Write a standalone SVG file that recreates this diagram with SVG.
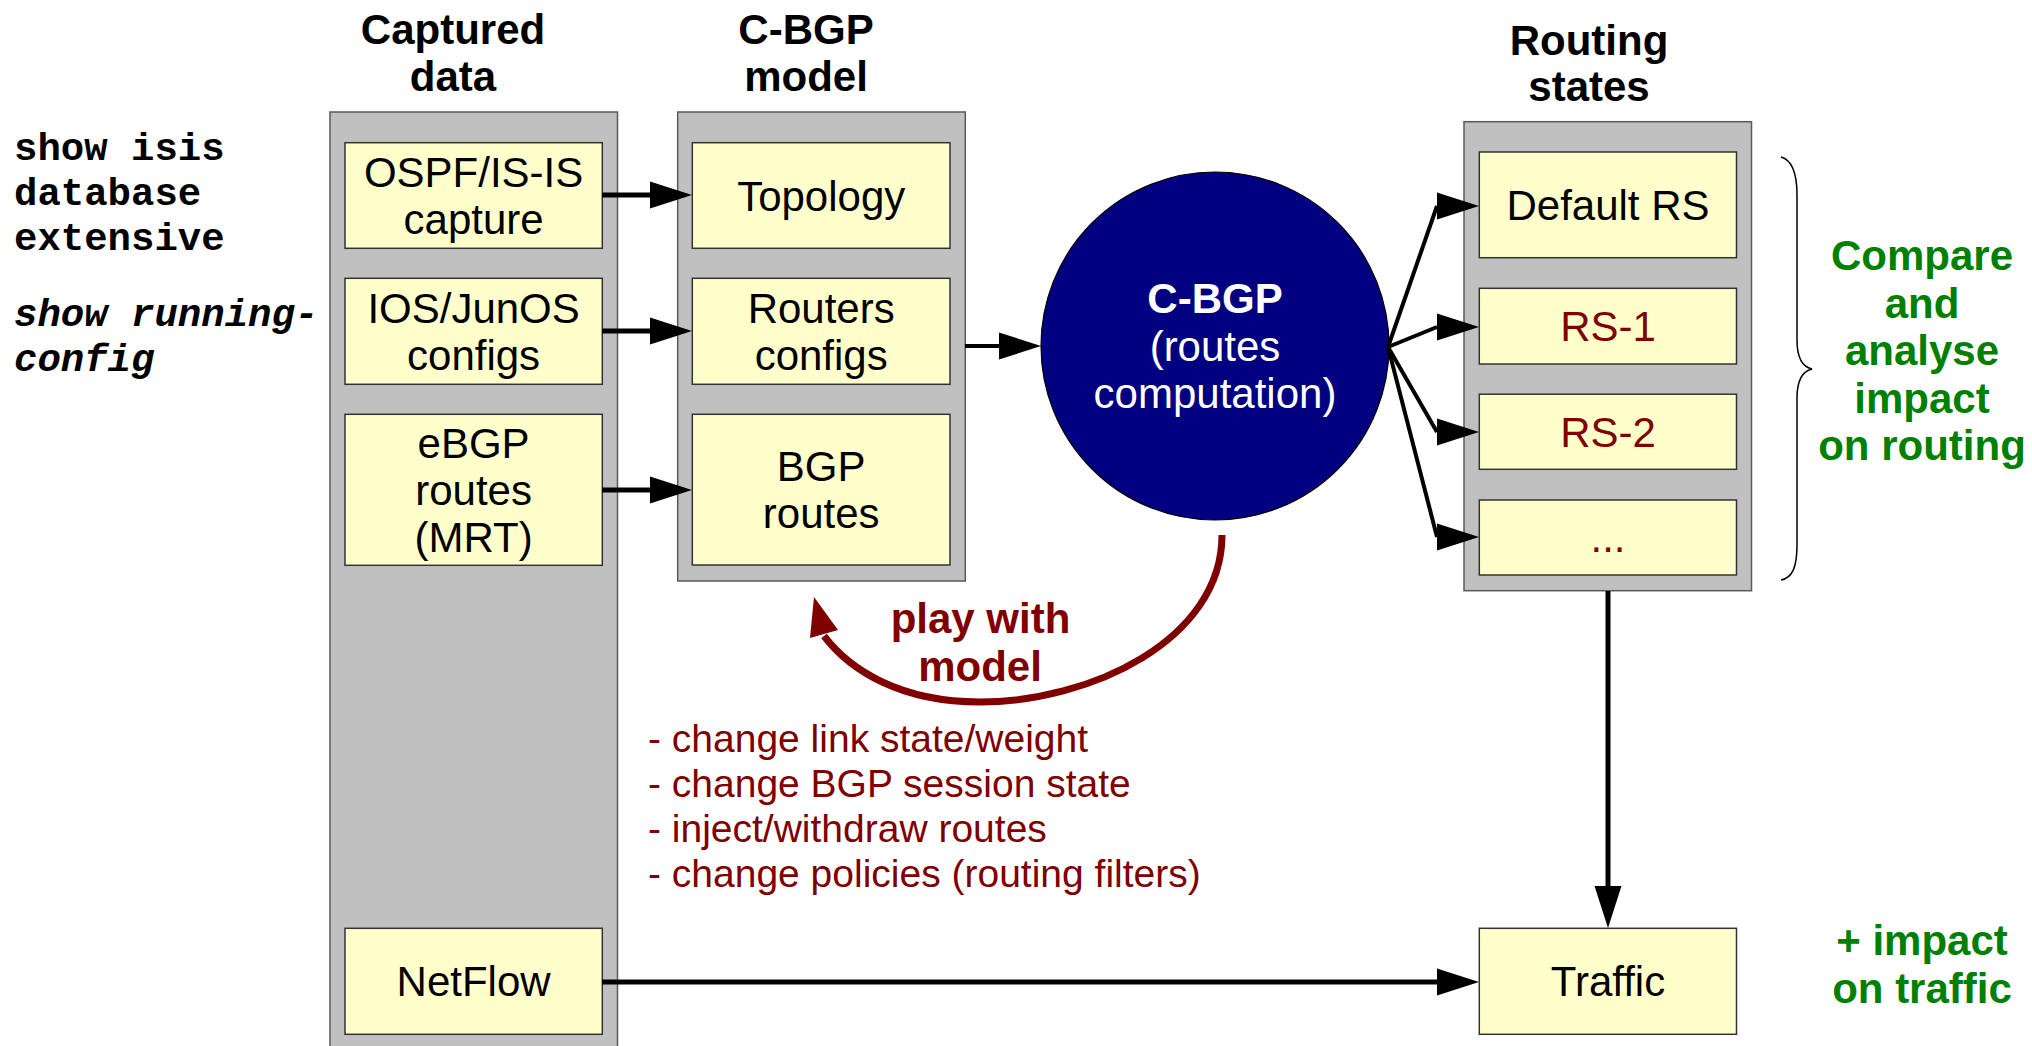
<svg xmlns="http://www.w3.org/2000/svg" width="2032" height="1046" viewBox="0 0 2032 1046">
<style>
.col{fill:#c0c0c0;stroke:#5a5a5a;stroke-width:1.5}
.box{fill:#ffffcc;stroke:#333;stroke-width:1.5}
.t{font-family:"Liberation Sans",Arial,sans-serif;font-size:42px;text-anchor:middle;fill:#000}
.b{font-weight:bold}
.red{fill:#800000}
.grn{fill:#008000}
.w{fill:#fff}
.mono{font-family:"Liberation Mono","Courier New",monospace;font-size:39px;font-weight:bold;fill:#000}
.ln{stroke:#000;fill:none;stroke-width:5}
.ln4{stroke:#000;fill:none;stroke-width:4}
</style>
<defs>
<marker id="arr" markerUnits="userSpaceOnUse" markerWidth="42" markerHeight="27" refX="0" refY="13.5" orient="auto" overflow="visible">
<path d="M0,0 L42,13.5 L0,27 z" fill="#000"/>
</marker>
<marker id="arrH" markerUnits="userSpaceOnUse" markerWidth="42" markerHeight="27" refX="0" refY="13.5" orient="0" overflow="visible">
<path d="M0,0 L42,13.5 L0,27 z" fill="#000"/>
</marker>
</defs>
<rect width="2032" height="1046" fill="#fff"/>

<g id="left-notes">
<text class="mono" x="14" y="160">show isis</text>
<text class="mono" x="14" y="205">database</text>
<text class="mono" x="14" y="250">extensive</text>
<text class="mono" x="14" y="326" font-style="italic">show running-</text>
<text class="mono" x="14" y="371" font-style="italic">config</text>
</g>

<g id="captured-data">
<text class="t b" x="453" y="44">Captured</text>
<text class="t b" x="453" y="91">data</text>
<rect class="col" x="330" y="112" width="287.5" height="940"/>
</g>
<g id="ospf-capture">
<rect class="box" x="345" y="142.7" width="257.3" height="105.6"/>
<text class="t" x="473.6" y="187">OSPF/IS-IS</text>
<text class="t" x="473.6" y="234">capture</text>
</g>
<g id="ios-configs">
<rect class="box" x="345" y="278.3" width="257.3" height="106"/>
<text class="t" x="473.6" y="322.8">IOS/JunOS</text>
<text class="t" x="473.6" y="369.8">configs</text>
</g>
<g id="ebgp-routes">
<rect class="box" x="345" y="414.3" width="257.3" height="151"/>
<text class="t" x="473.6" y="457.8">eBGP</text>
<text class="t" x="473.6" y="504.8">routes</text>
<text class="t" x="473.6" y="551.8">(MRT)</text>
</g>
<g id="netflow">
<rect class="box" x="345" y="928.3" width="257.3" height="106"/>
<text class="t" x="473.6" y="996.3">NetFlow</text>
</g>

<g id="cbgp-model">
<text class="t b" x="806" y="44">C-BGP</text>
<text class="t b" x="806" y="91">model</text>
<rect class="col" x="677.7" y="112" width="287.6" height="469"/>
</g>
<g id="topology">
<rect class="box" x="692.3" y="142.7" width="257.7" height="105.6"/>
<text class="t" x="821.2" y="210.5">Topology</text>
</g>
<g id="routers-configs">
<rect class="box" x="692.3" y="278.3" width="257.7" height="106"/>
<text class="t" x="821.2" y="322.8">Routers</text>
<text class="t" x="821.2" y="369.8">configs</text>
</g>
<g id="bgp-routes">
<rect class="box" x="692.3" y="414.3" width="257.7" height="150.7"/>
<text class="t" x="821.2" y="481">BGP</text>
<text class="t" x="821.2" y="528">routes</text>
</g>

<g id="cbgp-engine">
<circle cx="1215" cy="346" r="174" fill="#000080" stroke="#000" stroke-width="1.2"/>
<text class="t b w" x="1215" y="313">C-BGP</text>
<text class="t w" x="1215" y="360.5">(routes</text>
<text class="t w" x="1215" y="408">computation)</text>
</g>

<g id="routing-states">
<text class="t b" x="1589" y="55">Routing</text>
<text class="t b" x="1589" y="101">states</text>
<rect class="col" x="1464" y="121.7" width="287.5" height="469"/>
</g>
<g id="default-rs">
<rect class="box" x="1479.3" y="152" width="257.2" height="105.7"/>
<text class="t" x="1608" y="220">Default RS</text>
</g>
<g id="rs-1">
<rect class="box" x="1479.3" y="288.3" width="257.2" height="75.7"/>
<text class="t red" x="1608" y="341">RS-1</text>
</g>
<g id="rs-2">
<rect class="box" x="1479.3" y="394.2" width="257.2" height="75.1"/>
<text class="t red" x="1608" y="446.8">RS-2</text>
</g>
<g id="rs-more">
<rect class="box" x="1479.3" y="500" width="257.2" height="75"/>
<text class="t red" x="1608" y="552">...</text>
</g>
<g id="traffic">
<rect class="box" x="1479.3" y="928.3" width="257.2" height="106"/>
<text class="t" x="1608" y="996.3">Traffic</text>
</g>

<g id="annotations">
<path d="M1781,157 C1792,160 1797,172 1797,195 V340 C1797,358 1803,367 1812,369 C1803,371 1797,380 1797,398 V545 C1797,568 1792,578 1781,580" fill="none" stroke="#000" stroke-width="1.5"/>
<text class="t b grn" x="1922" y="270">Compare</text>
<text class="t b grn" x="1922" y="317.5">and</text>
<text class="t b grn" x="1922" y="365">analyse</text>
<text class="t b grn" x="1922" y="412.5">impact</text>
<text class="t b grn" x="1922" y="460">on routing</text>
<text class="t b grn" x="1922" y="955">+ impact</text>
<text class="t b grn" x="1922" y="1003">on traffic</text>
<text class="t b red" x="980.5" y="633">play with</text>
<text class="t b red" x="980" y="681">model</text>
<g class="t red" style="font-size:39px;text-anchor:start">
<text x="648" y="751.5">- change link state/weight</text>
<text x="648" y="796.5">- change BGP session state</text>
<text x="648" y="841.5">- inject/withdraw routes</text>
<text x="648" y="886.5">- change policies (routing filters)</text>
</g>
</g>

<g id="connectors">
<path class="ln" d="M602,195 H650" marker-end="url(#arr)"/>
<path class="ln" d="M602,331 H650" marker-end="url(#arr)"/>
<path class="ln" d="M602,490 H650" marker-end="url(#arr)"/>
<path class="ln4" d="M965,346 H999" marker-end="url(#arr)"/>
<path class="ln4" d="M1388,347 L1437,206" marker-end="url(#arrH)"/>
<path class="ln4" d="M1388,347 L1437,327" marker-end="url(#arrH)"/>
<path class="ln4" d="M1388,347 L1437,432" marker-end="url(#arrH)"/>
<path class="ln4" d="M1388,347 L1437,537" marker-end="url(#arrH)"/>
<path class="ln" d="M1608,591 V886" marker-end="url(#arr)"/>
<path class="ln" d="M602,982 H1437" marker-end="url(#arr)"/>
<path d="M1222,535 C1222,640 1090,702 980,702 C900,702 850,670 824,636" fill="none" stroke="#800000" stroke-width="7"/>
<polygon points="814,597 810,638 838,630" fill="#800000"/>
</g>
</svg>
